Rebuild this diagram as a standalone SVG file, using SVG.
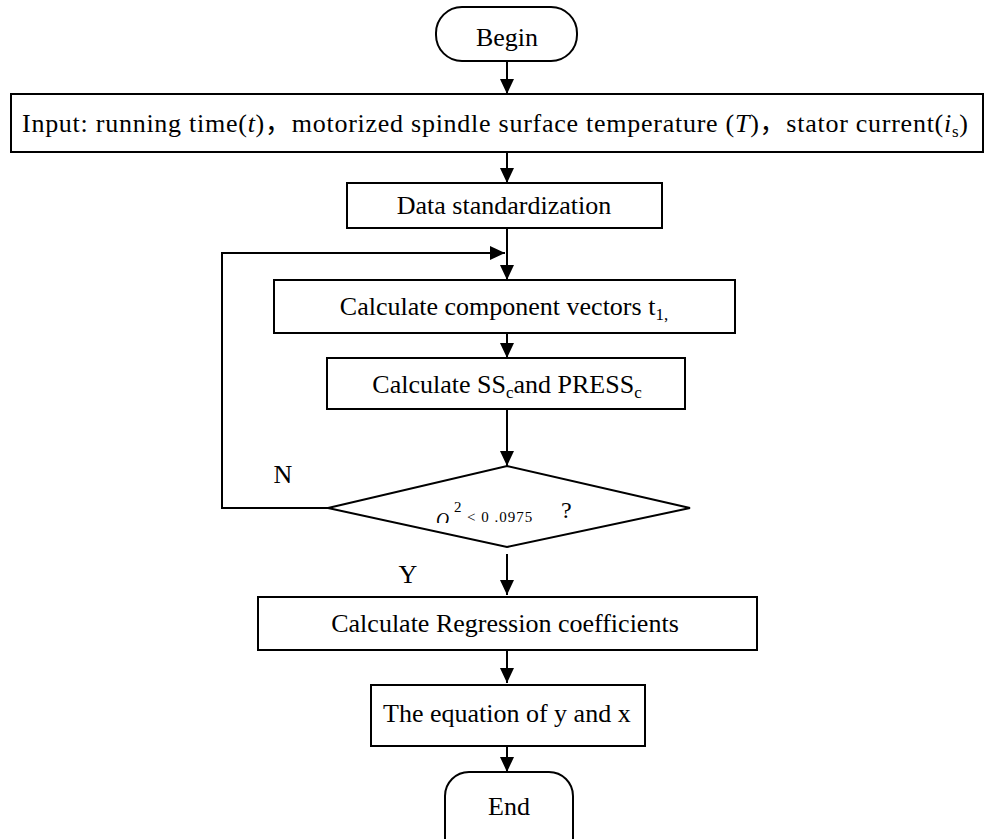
<svg xmlns="http://www.w3.org/2000/svg" width="984" height="839" viewBox="0 0 984 839">
<defs>
<style>
.box{fill:#fff;stroke:#000;stroke-width:2}
.ln{fill:none;stroke:#000;stroke-width:2}
text{font-family:"Liberation Serif","Times New Roman","Noto Sans CJK SC",serif;font-size:26px;fill:#000}
.c{text-anchor:middle}
</style>
<marker id="ah" markerUnits="userSpaceOnUse" markerWidth="16" markerHeight="14" refX="15" refY="7" orient="auto">
<path d="M0,0 L15,7 L0,14 Z" fill="#000"/>
</marker>
<clipPath id="qc"><rect x="420" y="490" width="40" height="33"/></clipPath>
</defs>
<rect width="984" height="839" fill="#fff"/>
<g id="connectors">
<line class="ln" x1="507" y1="61" x2="507" y2="94" marker-end="url(#ah)"/>
<line class="ln" x1="507" y1="152" x2="507" y2="183" marker-end="url(#ah)"/>
<line class="ln" x1="507" y1="228" x2="507" y2="280" marker-end="url(#ah)"/>
<polyline class="ln" points="328,508 222,508 222,253 505,253" marker-end="url(#ah)"/>
<line class="ln" x1="507" y1="333" x2="507" y2="358" marker-end="url(#ah)"/>
<line class="ln" x1="507" y1="409" x2="507" y2="466" marker-end="url(#ah)"/>
<line class="ln" x1="507" y1="554" x2="507" y2="595" marker-end="url(#ah)"/>
<line class="ln" x1="507" y1="650" x2="507" y2="683" marker-end="url(#ah)"/>
<line class="ln" x1="507" y1="746" x2="507" y2="772" marker-end="url(#ah)"/>
<text class="c" x="283" y="483">N</text>
<text class="c" x="408" y="583">Y</text>
</g>
<g id="begin">
<rect class="box" x="436" y="7" width="141" height="54" rx="26" ry="26"/>
<text class="c" x="507" y="46">Begin</text>
</g>
<g id="input">
<rect class="box" x="11" y="94" width="972" height="58"/>
<text x="22" y="132" textLength="946" lengthAdjust="spacing">Input: running time(<tspan font-style="italic">t</tspan>)，motorized spindle surface temperature (<tspan font-style="italic">T</tspan>)，stator current(<tspan font-style="italic">i</tspan><tspan dy="5" font-size="17">s</tspan><tspan dy="-5">)</tspan></text>
</g>
<g id="standardize">
<rect class="box" x="347" y="183" width="315" height="45"/>
<text class="c" x="504" y="214">Data standardization</text>
</g>
<g id="component">
<rect class="box" x="274" y="280" width="461" height="53"/>
<text class="c" x="504" y="315">Calculate component vectors t<tspan dy="5" font-size="17">1,</tspan></text>
</g>
<g id="press">
<rect class="box" x="327" y="358" width="358" height="51"/>
<text class="c" x="507" y="393">Calculate SS<tspan dy="5" font-size="17">c</tspan><tspan dy="-5">and PRESS</tspan><tspan dy="5" font-size="17">c</tspan></text>
</g>
<g id="decision">
<polygon class="box" points="507,466 690,508 507,547 328,508"/>
<g clip-path="url(#qc)">
<text x="436" y="526" style="font-size:18px;font-style:italic">Q</text>
<text x="449" y="531" style="font-size:12px;font-style:italic">c</text>
</g>
<text x="454" y="512" style="font-size:15px">2</text>
<text x="467" y="522" style="font-size:15px;letter-spacing:1px">&lt; 0 .0975</text>
<text x="561" y="518" style="font-size:24px">?</text>
</g>
<g id="regression">
<rect class="box" x="258" y="597" width="499" height="53"/>
<text class="c" x="505" y="632">Calculate Regression coefficients</text>
</g>
<g id="equation">
<rect class="box" x="371" y="685" width="274" height="61"/>
<text x="383" y="722">The equation of y and x</text>
</g>
<g id="end">
<rect class="box" x="445" y="772" width="128" height="90" rx="24" ry="24"/>
<text class="c" x="509" y="815">End</text>
</g>
</svg>
